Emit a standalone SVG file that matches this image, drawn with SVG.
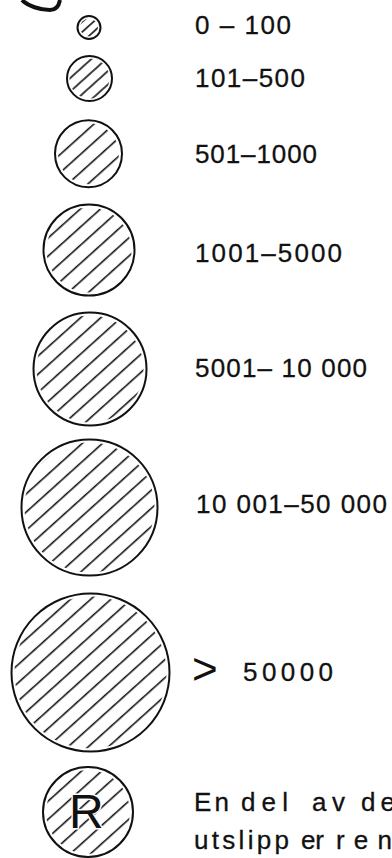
<svg xmlns="http://www.w3.org/2000/svg" width="392" height="858" viewBox="0 0 392 858">
<style>
.ring{fill:none;stroke:#111;stroke-width:2}
.lbl{font-family:"Liberation Sans",Arial,sans-serif;font-size:26px;fill:#111;stroke:#111;stroke-width:0.3}
.hl{stroke:#111;stroke-width:1.6}
</style>
<defs>
<pattern id="h12" patternUnits="userSpaceOnUse" width="13.5" height="13.5" patternTransform="rotate(-42)">
<line class="hl" x1="-1" y1="6.5" x2="15" y2="6.5"/>
</pattern>
<pattern id="h9" patternUnits="userSpaceOnUse" width="10" height="10" patternTransform="rotate(-42)">
<line class="hl" x1="-1" y1="5" x2="11" y2="5"/>
</pattern>
<pattern id="h7" patternUnits="userSpaceOnUse" width="7.5" height="7.5" patternTransform="rotate(-42)">
<line class="hl" x1="-1" y1="3.7" x2="9" y2="3.7"/>
</pattern>
</defs>
<rect width="392" height="858" fill="#fff"/>
<path d="M22,0 C28,6 40,10 50,10 C56,10 59,5 60,0" fill="none" stroke="#111" stroke-width="4"/>
<g id="connectors"/>
<g id="n1">
<circle cx="89" cy="27.5" r="9" fill="url(#h7)"/>
<circle class="ring" cx="89" cy="27.5" r="11.5"/>
<text class="lbl" x="195" y="34" textLength="96" lengthAdjust="spacing">0 – 100</text>
</g>
<g id="n2">
<circle cx="89.5" cy="78.5" r="20" fill="url(#h9)"/>
<circle class="ring" cx="89.5" cy="78.5" r="22.5"/>
<text class="lbl" x="195" y="87" textLength="110" lengthAdjust="spacing">101–500</text>
</g>
<g id="n3">
<circle cx="88.5" cy="153.7" r="30.5" fill="url(#h12)"/>
<circle class="ring" cx="88.5" cy="153.7" r="33.5"/>
<text class="lbl" x="195" y="163" textLength="122" lengthAdjust="spacing">501–1000</text>
</g>
<g id="n4">
<circle cx="89" cy="250" r="42.5" fill="url(#h12)"/>
<circle class="ring" cx="89" cy="250" r="45.5"/>
<text class="lbl" x="195" y="262" textLength="147" lengthAdjust="spacing">1001–5000</text>
</g>
<g id="n5">
<circle cx="90" cy="369" r="53.5" fill="url(#h12)"/>
<circle class="ring" cx="90" cy="369" r="56.5"/>
<text class="lbl" x="195" y="377" textLength="172" lengthAdjust="spacing">5001– 10 000</text>
</g>
<g id="n6">
<circle cx="89.5" cy="507.5" r="65" fill="url(#h12)"/>
<circle class="ring" cx="89.5" cy="507.5" r="68"/>
<text class="lbl" x="196" y="513" textLength="191" lengthAdjust="spacing">10 001–50 000</text>
</g>
<g id="n7">
<circle cx="90.5" cy="672.5" r="76" fill="url(#h12)"/>
<circle class="ring" cx="90.5" cy="672.5" r="79"/>
<text class="lbl" x="192" y="684" style="font-size:44px;stroke-width:0">&gt;</text>
<text class="lbl" x="243" y="681" textLength="90" lengthAdjust="spacing">50000</text>
</g>
<g id="n8">
<circle cx="88" cy="812" r="42" fill="url(#h12)"/>
<circle class="ring" cx="88" cy="812" r="45"/>
<text class="lbl" x="69" y="828" style="font-size:48px;stroke:#fff;stroke-width:3;paint-order:stroke">R</text>
<text class="lbl" y="811"><tspan x="194" textLength="35" lengthAdjust="spacing">En</tspan><tspan x="241" textLength="47" lengthAdjust="spacing">del</tspan><tspan x="312" textLength="33" lengthAdjust="spacing">av</tspan><tspan x="361" textLength="34" lengthAdjust="spacing">de</tspan></text>
<text class="lbl" y="849"><tspan x="194" textLength="95" lengthAdjust="spacing">utslipp</tspan><tspan x="301" textLength="23" lengthAdjust="spacing">er</tspan><tspan x="336" textLength="56" lengthAdjust="spacing">ren</tspan></text>
</g>
</svg>
